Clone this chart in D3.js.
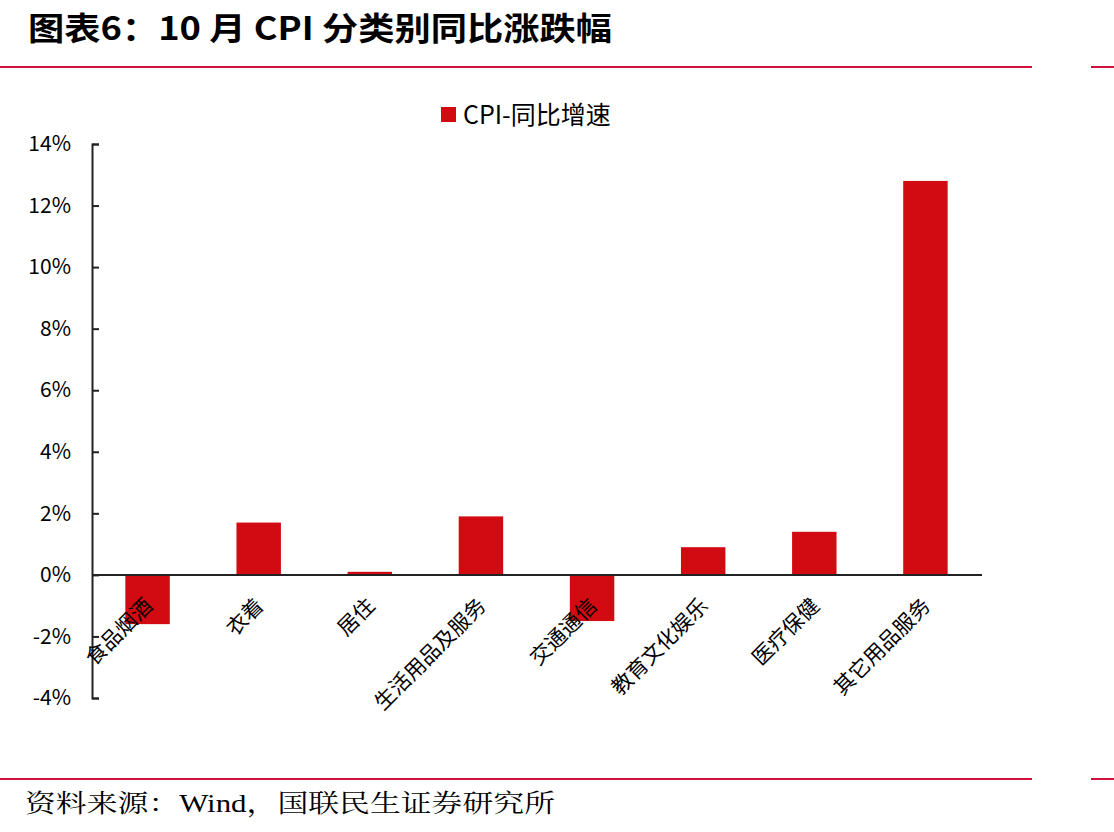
<!DOCTYPE html>
<html>
<head>
<meta charset="utf-8">
<script src="https://cdn.jsdelivr.net/npm/d3@7"></script>
<style>
body { margin: 0; background: #fff; }
svg { display: block; }
</style>
</head>
<body>
<svg id="graph"></svg>
<script>
var categories = ["食品烟酒", "衣着", "居住", "生活用品及服务", "交通通信", "教育文化娱乐", "医疗保健", "其它用品服务"];
var cpiValues = [-1.6, 1.7, 0.1, 1.9, -1.5, 0.9, 1.4, 12.8];
var yTicks = [-4, -2, 0, 2, 4, 6, 8, 10, 12, 14];
var seriesName = "CPI-同比增速";

var screen = {width: 1114, height: 832};
var red = "#d20a11";
var cjk = "'Noto Sans CJK SC', 'Noto Sans', sans-serif";

var svg = d3.select("#graph")
    .attr("width", screen.width)
    .attr("height", screen.height);

// title + rules
svg.append("text")
    .attr("x", 28)
    .attr("y", 40)
    .attr("font-family", cjk)
    .attr("font-weight", "bold")
    .attr("font-size", 32)
    .attr("textLength", 584)
    .attr("lengthAdjust", "spacingAndGlyphs")
    .text("图表6：10 月 CPI 分类别同比涨跌幅");

[67, 779].forEach(function(y)
{
    svg.append("line").attr("x1", 0).attr("x2", 1032).attr("y1", y).attr("y2", y)
        .attr("stroke", "#d0103a").attr("stroke-width", 2);
    svg.append("line").attr("x1", 1091).attr("x2", 1114).attr("y1", y).attr("y2", y)
        .attr("stroke", "#d0103a").attr("stroke-width", 2);
});

svg.append("text")
    .attr("x", 25)
    .attr("y", 812)
    .attr("font-family", "'Liberation Serif', 'Noto Serif CJK SC', serif")
    .attr("font-size", 25)
    .attr("textLength", 530)
    .attr("lengthAdjust", "spacingAndGlyphs")
    .text("资料来源：Wind，国联民生证券研究所");

// scales
var xScale = d3.scaleBand()
    .domain(categories)
    .range([92, 981])
    .paddingInner(0.6)
    .paddingOuter(0.3);

var yScale = d3.scaleLinear()
    .domain([-4, 14])
    .range([698, 144]);

// bars
svg.append("g")
    .selectAll("rect")
    .data(cpiValues)
    .enter()
    .append("rect")
    .attr("x", function(d, i) { return xScale(categories[i]); })
    .attr("width", xScale.bandwidth())
    .attr("y", function(d) { return yScale(Math.max(d, 0)); })
    .attr("height", function(d) { return Math.abs(yScale(d) - yScale(0)); })
    .attr("fill", red);

// y axis
var yAxis = svg.append("g")
    .attr("transform", "translate(92,0)")
    .call(d3.axisLeft(yScale)
        .tickValues(yTicks)
        .tickSize(-7)
        .tickPadding(21)
        .tickFormat(function(d) { return d + "%"; }));
yAxis.select(".domain").attr("stroke", "#222").attr("stroke-width", 2);
yAxis.selectAll(".tick line").attr("stroke", "#222").attr("stroke-width", 2);
yAxis.selectAll(".tick text")
    .attr("font-family", cjk)
    .attr("font-size", 21)
    .attr("fill", "#000");

// zero line
svg.append("line")
    .attr("x1", 92).attr("x2", 982)
    .attr("y1", yScale(0)).attr("y2", yScale(0))
    .attr("stroke", "#222").attr("stroke-width", 2);

// x labels
svg.append("g")
    .selectAll("text")
    .data(categories)
    .enter()
    .append("text")
    .attr("transform", function(d)
    {
        var cx = xScale(d) + xScale.bandwidth() / 2;
        return "translate(" + (cx + 1) + "," + 602 + ") rotate(-45)";
    })
    .attr("text-anchor", "end")
    .attr("dy", "0.35em")
    .attr("font-family", cjk)
    .attr("font-size", 21)
    .text(function(d) { return d; });

// legend
svg.append("rect")
    .attr("x", 441).attr("y", 107)
    .attr("width", 15).attr("height", 15)
    .attr("fill", red);
svg.append("text")
    .attr("x", 463).attr("y", 115)
    .attr("dy", "0.35em")
    .attr("font-family", cjk)
    .attr("font-size", 25)
    .text(seriesName);
</script>
</body>
</html>
